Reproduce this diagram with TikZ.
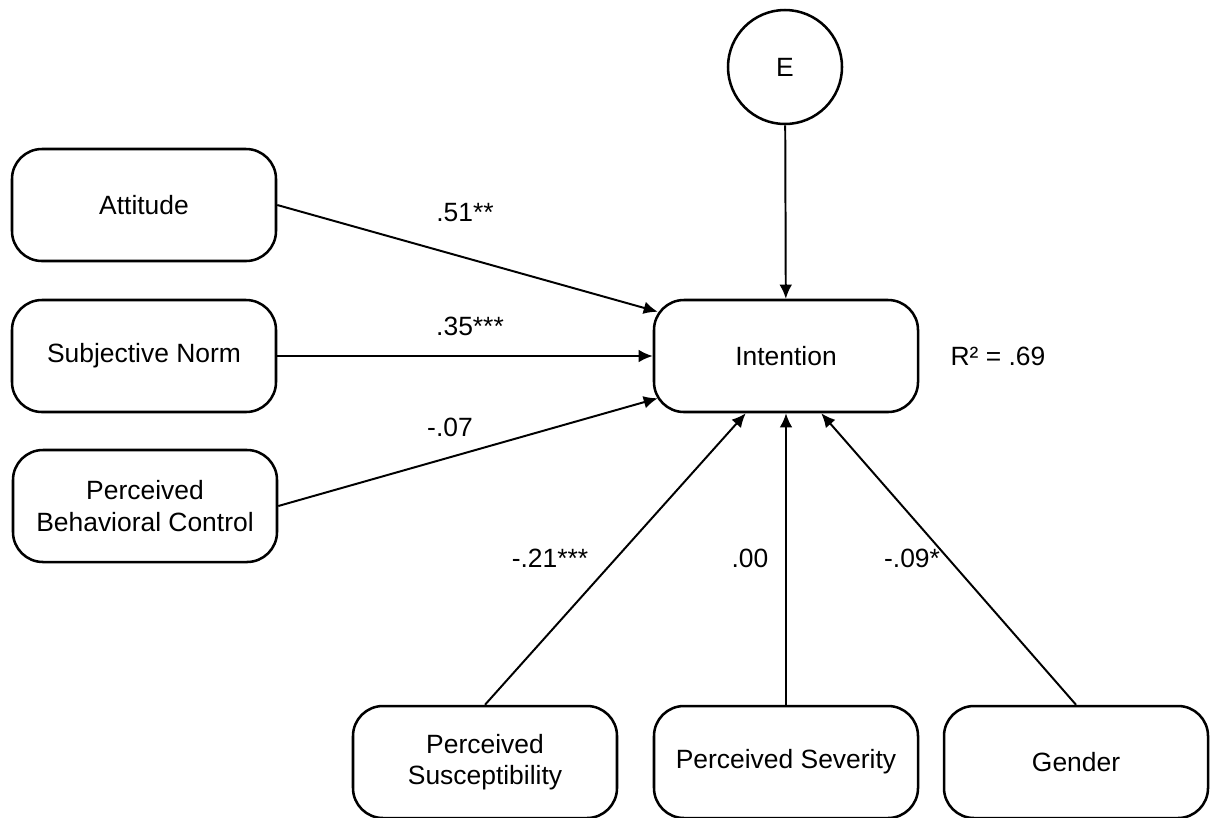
\documentclass[tikz,border=0pt]{standalone}
\usepackage{fontspec}
\setmainfont{Liberation Sans}
\usetikzlibrary{arrows.meta}

\begin{document}
\begin{tikzpicture}[>={Latex[length=10pt,width=9pt]}, line width=1.4pt,
          var/.style={draw, rectangle, rounded corners=0.75cm, line width=1.8pt,
            minimum width=6.6cm, minimum height=2.8cm, align=center,
            font=\fontsize{18.8}{22.5}\selectfont},
          err/.style={draw, circle, line width=1.8pt, minimum size=2.85cm,
            font=\fontsize{18.8}{22.5}\selectfont},
          coef/.style={font=\fontsize{18.8}{22.5}\selectfont}
        ]
        \useasboundingbox (0,0) rectangle (30.35,-20.425);

        \node[err] (E)   at (19.625,-1.675) {E};
        \node[var] (att) at (3.6,-5.125)    {Attitude};
        \node[var] (sn)  at (3.6,-8.9)      {Subjective Norm};
        \node[var] (pbc) at (3.625,-12.65)  {Perceived\\Behavioral Control};
        \node[var] (int) at (19.65,-8.9)    {Intention};
        \node[coef] (r2) at (24.95,-8.9)    {R² = .69};

        \node[var] (sus) at (12.125,-19.05) {Perceived\\Susceptibility};
        \node[var] (sev) at (19.65,-19.05)  {Perceived Severity};
        \node[var] (gen) at (26.9,-19.05)   {Gender};

        % predictors on the left
        \draw[->] (att.east) -- ([shift={(0.125,-0.325)}]int.north west);
        \draw[->] (sn) -- (int);
        \draw[->] (pbc.east) -- ([shift={(0.125,0.375)}]int.south west);
        \draw[->] (E) -- (int);

        % predictors below
        \draw[->] (sus.north) -- ([xshift=2.325cm]int.south west);
        \draw[->] (sev) -- (int);
        \draw[->] (gen.north) -- ([xshift=-2.45cm]int.south east);

        \node[coef] (b1) at (11.625,-5.325) {.51**};
        \node[coef] (b2) at (11.75,-8.15)   {.35***};
        \node[coef] (b3) at (11.25,-10.675) {-.07};
        \node[coef] (b4) at (13.75,-13.95)  {-.21***};
        \node[coef] (b5) at (18.75,-13.95)  {.00};
        \node[coef] (b6) at (22.8,-13.95)   {-.09*};
      \end{tikzpicture}
\end{document}
